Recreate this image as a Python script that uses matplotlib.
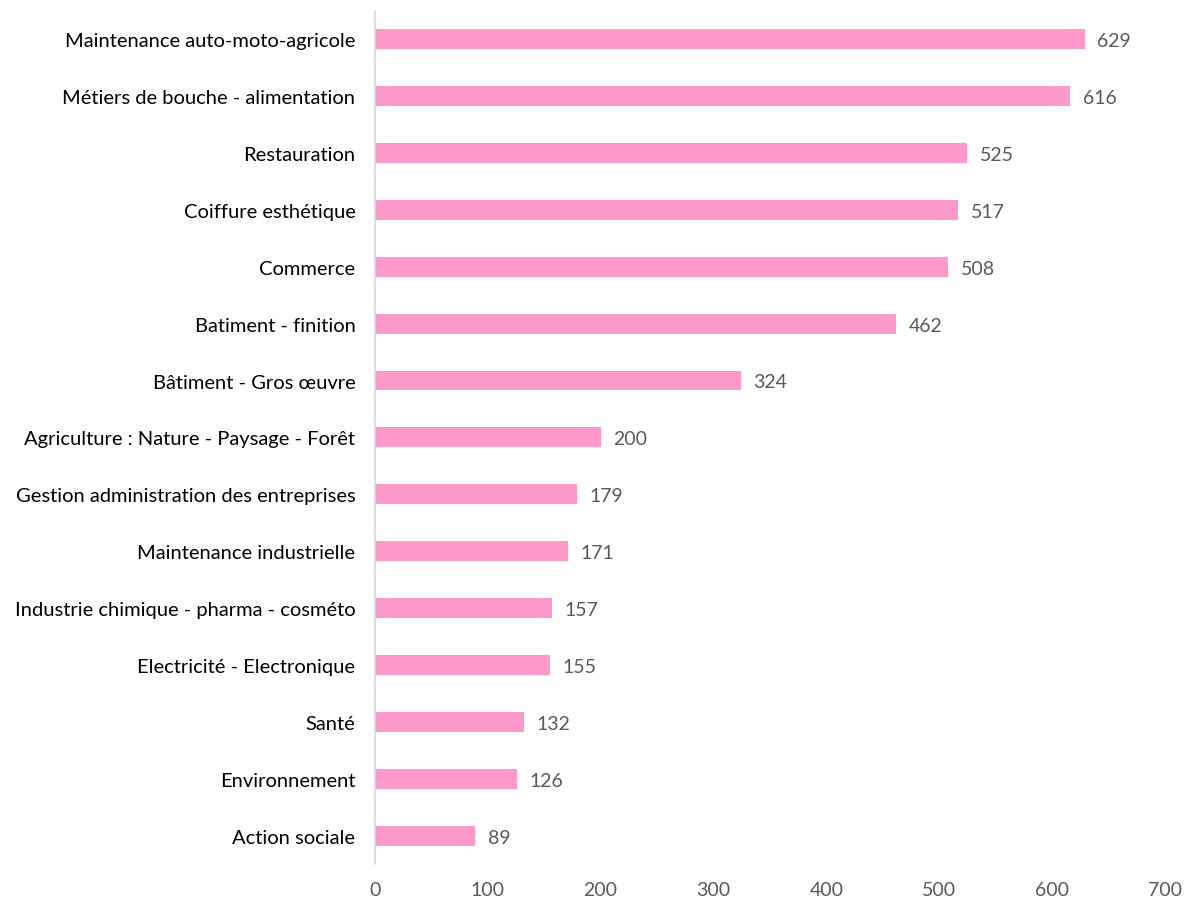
import matplotlib
matplotlib.use("Agg")
import matplotlib.pyplot as plt

# ── 数据 ──────────────────────────────────────────────────
categories = [
    "Maintenance auto-moto-agricole",
    "Métiers de bouche - alimentation",
    "Restauration",
    "Coiffure esthétique",
    "Commerce",
    "Batiment - finition",
    "Bâtiment - Gros œuvre",
    "Agriculture : Nature - Paysage - Forêt",
    "Gestion administration des entreprises",
    "Maintenance industrielle",
    "Industrie chimique - pharma - cosméto",
    "Electricité - Electronique",
    "Santé",
    "Environnement",
    "Action sociale",
]
values = [629, 616, 525, 517, 508, 462, 324, 200, 179, 171, 157, 155, 132, 126, 89]
xticks = [0, 100, 200, 300, 400, 500, 600, 700]

plt.rcParams["font.family"] = ["Lato", "DejaVu Sans"]

fig = plt.figure(figsize=(11.9, 9.03), dpi=100)
ax = fig.add_axes([0.315, 0.042, 0.664, 0.945])

pos = list(range(len(categories)))
ax.barh(pos, values, height=0.35, color="#FF99CC")

for p, v in zip(pos, values):
    ax.annotate(str(v), (v, p), xytext=(9, -1), textcoords="offset points",
                va="center", ha="left", fontsize=14, color="#595959")

ax.set_ylim(len(categories) - 0.5, -0.5)
ax.set_xlim(0, 700)
ax.set_yticks(pos)
ax.set_yticklabels(categories, fontsize=14.5, color="black")
ax.set_xticks(xticks)
ax.set_xticklabels([str(t) for t in xticks], fontsize=14, color="#595959")
ax.tick_params(axis="both", length=0)
ax.tick_params(axis="y", pad=14)
ax.tick_params(axis="x", pad=12)

for s in ["top", "right", "bottom"]:
    ax.spines[s].set_visible(False)
ax.spines["left"].set_color("#D9D9D9")
ax.spines["left"].set_linewidth(1.2)

fig.savefig("out.png", dpi=100)
